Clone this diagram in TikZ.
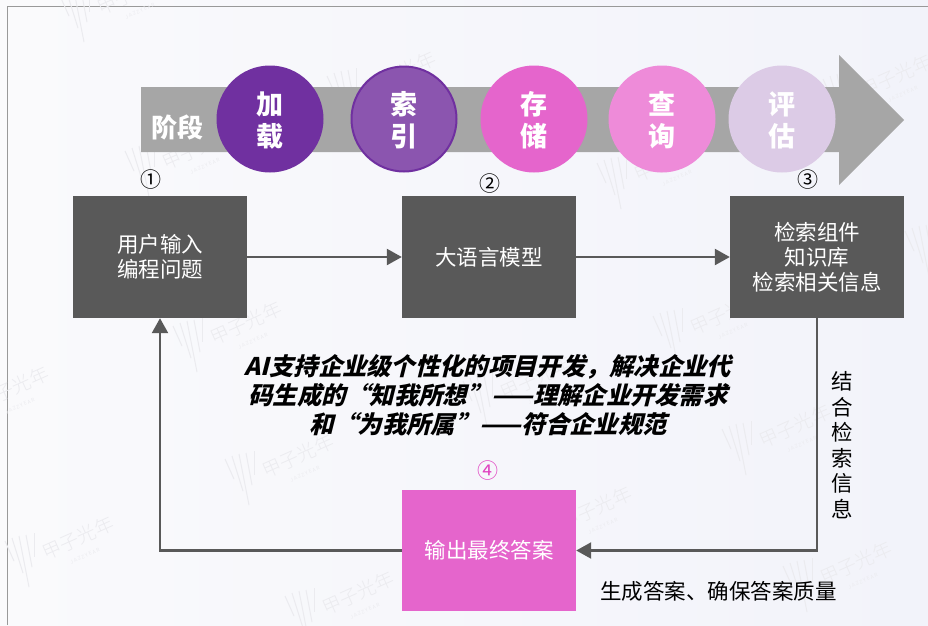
\documentclass[tikz,border=0pt]{standalone}
\usepackage{xcolor}
\usepackage{fontspec}
\usepackage{tikz}
\usetikzlibrary{arrows.meta}

\setmainfont{Noto Sans CJK SC}
\newfontfamily\slantcjk[FakeSlant=0.25]{Noto Sans CJK SC Black}
\newfontfamily\lightcjk{Noto Sans CJK SC Light}

\definecolor{boxgray}{HTML}{595959}
\definecolor{bargray}{HTML}{A6A6A6}
\definecolor{markgray}{HTML}{EBEBEF}
\definecolor{loadpurple}{HTML}{7030A0}
\definecolor{indexpurple}{HTML}{8B55AF}
\definecolor{storepink}{HTML}{E565CC}
\definecolor{querypink}{HTML}{EE8BD9}
\definecolor{evallilac}{HTML}{DCCBE6}
\definecolor{numpink}{HTML}{E040C0}
\definecolor{bgleft}{HTML}{FAFAFC}
\definecolor{bgright}{HTML}{F2F3FA}

\newcommand{\phasetext}[2]{\rule{0pt}{25.5pt}#1\\#2}

\tikzset{
    stepbox/.style={fill=boxgray, text=white, minimum width=174pt, minimum height=122pt, inner sep=0pt, align=center, font=\fontsize{21.5}{25}\selectfont},
    phase/.style={circle, minimum size=107pt, inner sep=0pt, text=white, align=center, font=\fontsize{27}{32}\selectfont\bfseries},
    flowline/.style={draw=boxgray, line width=2.4pt, -{Triangle[length=15pt, width=16pt]}},
    plainlabel/.style={inner sep=0pt, align=center, font=\fontsize{21.5}{25.5}\selectfont},
    numlabel/.style={inner sep=0pt, font=\fontsize{21}{21}\selectfont},
    wmark/.pic={
        \draw[markgray, line width=1pt] (0,6) -- (9,26);
        \draw[markgray, line width=1pt] (7,3) -- (18,38);
        \draw[markgray, line width=1pt] (14,1) -- (24,52);
        \draw[markgray, line width=1pt] (21,0) -- (27,32);
        \draw[markgray, line width=1pt] (29,-2) -- (29,22);
        \node[rotate=24, text=markgray, inner sep=0pt, font=\fontsize{19}{19}\selectfont\lightcjk] at (73,3) {甲子光年};
        \node[rotate=24, text=markgray, inner sep=0pt, font=\fontsize{5}{5}\selectfont] at (80,21) {J A Z Z Y E A R};
    }
}

\begin{document}
\begin{tikzpicture}[x=1pt, y=-1pt]
    \useasboundingbox (0,0) rectangle (928,625);

    % Background and frame
    \shade[left color=bgleft, right color=bgright] (0,0) rectangle (928,625);
    \draw[gray!80, line width=1pt] (7,625) -- (7,6) -- (928,6);

    % Watermarks
    \foreach \wx/\wy in {60/-10, 125/145, 327/70, 597/157, 823/73, 173/320, 463/375, 653/310, 722/423, 225/453, 5/535, 285/590, 783/560, 523/505, 905/225, -60/385}
        \pic at (\wx,\wy) {wmark};

    % Phase arrow
    \fill[bargray] (141,87) -- (839,87) -- (839,55) -- (904,120) -- (839,185) -- (839,152) -- (141,152) -- cycle;
    \node[inner sep=0pt, text=white, font=\fontsize{26}{26}\selectfont\bfseries] (stagelabel) at (177,127) {阶段};

    % Phases
    \node[phase, fill=loadpurple] (load) at (270,119) {\phasetext{加}{载}};
    \node[phase, fill=indexpurple, draw=loadpurple, line width=2pt, minimum size=105pt] (index) at (404,119) {\phasetext{索}{引}};
    \node[phase, fill=storepink] (store) at (534,119) {\phasetext{存}{储}};
    \node[phase, fill=querypink] (query) at (662,119) {\phasetext{查}{询}};
    \node[phase, fill=evallilac] (evaluate) at (782,119) {\phasetext{评}{估}};

    % Step boxes
    \node[stepbox] (input) at (160,257) {用户输入\\编程问题};
    \node[stepbox] (model) at (489,257) {大语言模型};
    \node[stepbox] (retrieve) at (817,257) {检索组件\\知识库\\检索相关信息};
    \node[stepbox, fill=storepink, minimum height=121pt] (output) at (489,550.5) {输出最终答案};

    % Step numbers
    \node[numlabel] (numone) at (151,180) {①};
    \node[numlabel] (numtwo) at (490,184) {②};
    \node[numlabel] (numthree) at (808,180) {③};
    \node[numlabel, text=numpink] (numfour) at (488,471) {④};

    % Connectors
    \draw[flowline] (input) -- (model);
    \draw[flowline] (model) -- (retrieve);
    \draw[flowline] (retrieve.south) |- (output.east);
    \draw[flowline] (output.west) -| (input.south);

    % Labels
    \node[inner sep=0pt, align=center, font=\fontsize{24.3}{29}\selectfont\slantcjk] (summary) at (488,395) {AI支持企业级个性化的项目开发，解决企业代\\码生成的“知我所想”——理解企业开发需求\\和“为我所属”——符合企业规范};
    \node[plainlabel] (sidelabel) at (842,445) {结\\合\\检\\索\\信\\息};
    \node[plainlabel] (bottomlabel) at (718.5,591) {生成答案、确保答案质量};
\end{tikzpicture}
\end{document}
